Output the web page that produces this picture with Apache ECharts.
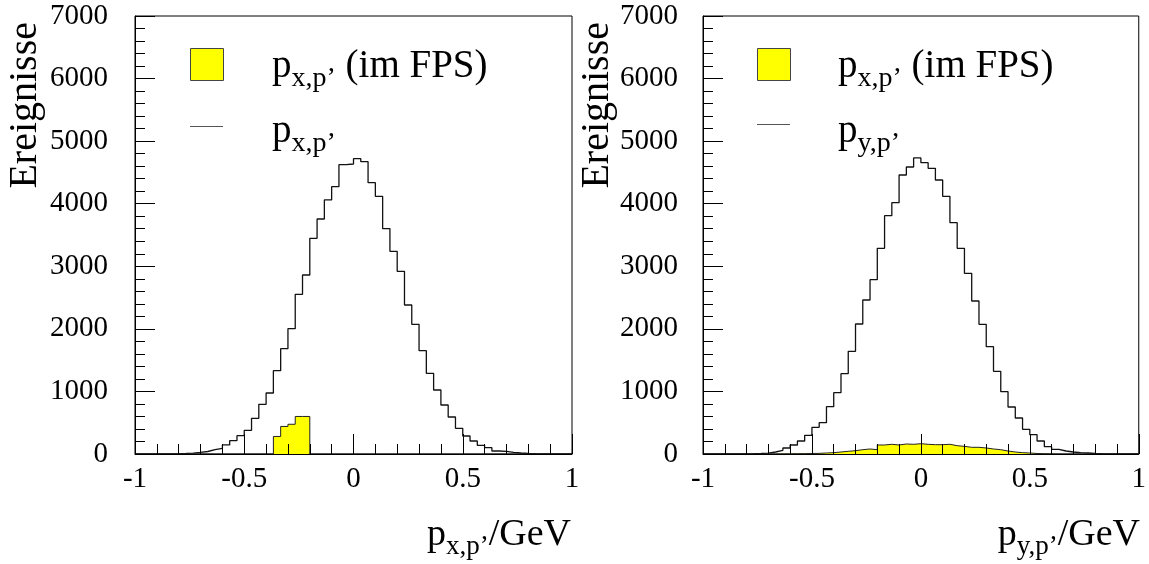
<!DOCTYPE html>
<html>
<head>
<meta charset="utf-8">
<script src="https://cdn.jsdelivr.net/npm/echarts@6/dist/echarts.min.js"></script>
<style>
html,body{margin:0;padding:0;background:#fff;}
#chart{width:1149px;height:564px;}
</style>
</head>
<body>
<div id="chart"></div>
<script>
// ---- data ----
const binMin = -1;
const binMax = 1;
const binCount = 60;
// left panel: p_x,p' (all) and p_x,p' (in FPS)
const pxAll = [0,0,1,2,3,5,8,15,25,40,70,90,145,213,293,378,570,794,975,1332,1684,2003,2552,2861,3447,3756,4060,4273,4624,4635,4720,4672,4337,4118,3602,3239,2920,2381,2072,1652,1289,1023,783,591,410,288,208,139,101,48,43,27,16,8,5,3,2,1,0,0];
const pxFPS = [0,0,0,0,0,0,0,0,0,0,0,0,0,0,0,0,0,0,0,280,440,475,600,600,0,0,0,0,0,0,0,0,0,0,0,0,0,0,0,0,0,0,0,0,0,0,0,0,0,0,0,0,0,0,0,0,0,0,0,0];
// right panel: p_y,p' (all) and p_x,p' (in FPS)
const pyAll = [0,0,1,1,2,3,5,8,15,32,59,96,144,208,298,426,501,757,980,1284,1641,2078,2461,2786,3287,3809,4017,4459,4587,4731,4656,4566,4379,4118,3697,3287,2888,2445,2072,1716,1321,996,751,575,394,309,208,117,75,48,32,21,16,8,5,3,2,1,0,0];
const pyFPS = [0,0,0,0,0,0,0,0,0,0,2,3,5,6,8,10,16,21,32,43,53,69,80,69,144,155,144,160,155,165,155,149,149,155,133,122,107,107,96,80,69,48,32,21,16,8,5,3,0,0,0,0,0,0,0,0,0,0,0,0];
const xTickValues = [-1,-0.5,0,0.5,1];
const xTickLabels = ['-1','-0.5','0','0.5','1'];
const yTickLabels = ['0','1000','2000','3000','4000','5000','6000','7000'];
const yTitle = 'Ereignisse';

// ---- helpers ----
const binWidth = (binMax - binMin) / binCount;
function stepData(vals){
  const d = vals.map((v,i)=>[binMin + i*binWidth, v]);
  d.push([binMax, vals[vals.length-1]]);
  return d;
}
const FONT = '"Liberation Serif", "Times New Roman", serif';
const rich = {
  m:{fontFamily:FONT,fontSize:38,color:'#000'},
  s:{fontFamily:FONT,fontSize:27,color:'#000',padding:[24,0,0,0]}
};
const legRich = {
  m:{fontFamily:FONT,fontSize:39,color:'#000'},
  s:{fontFamily:FONT,fontSize:28,color:'#000',padding:[24,0,0,0]}
};

function xAxisCfg(idx){
  return {
    gridIndex: idx, type:'value', min:-1, max:1, interval:0.5, z:5,
    axisLine:{show:true,onZero:false,lineStyle:{color:'#000',width:1}},
    axisTick:{show:true,inside:true,length:20,lineStyle:{color:'#000',width:1}},
    minorTick:{show:true,splitNumber:5,length:10,lineStyle:{color:'#000',width:1}},
    splitLine:{show:false}, minorSplitLine:{show:false},
    axisLabel:{show:true,margin:11,color:'#000',fontFamily:FONT,fontSize:29,
      showMinLabel:true,showMaxLabel:true,
      formatter:function(v){const i=xTickValues.findIndex(t=>Math.abs(t-v)<1e-6);return i>=0?xTickLabels[i]:'';}}
  };
}
function yAxisCfg(idx, margin){
  return {
    gridIndex: idx, type:'value', min:0, max:7000, interval:1000, z:5,
    axisLine:{show:true,onZero:false,lineStyle:{color:'#000',width:1}},
    axisTick:{show:true,inside:true,length:20,lineStyle:{color:'#000',width:1}},
    minorTick:{show:true,splitNumber:5,length:10,lineStyle:{color:'#000',width:1}},
    splitLine:{show:false}, minorSplitLine:{show:false},
    axisLabel:{show:true,margin:margin,color:'#000',fontFamily:FONT,fontSize:29,
      formatter:function(v){return yTickLabels[Math.round(v/1000)];}}
  };
}
function histSeries(idx, vals, filled){
  return {
    type:'line', xAxisIndex:idx, yAxisIndex:idx, step:'end', symbol:'none',
    data: stepData(vals), animation:false, silent:true,
    lineStyle:{color: filled ? '#222' : '#111', width: filled ? 1 : 1.3},
    areaStyle: filled ? {color:'#ffff00', opacity:1} : undefined,
    z: filled ? 3 : 2
  };
}

const chart = echarts.init(document.getElementById('chart'), null, {renderer:'canvas'});
chart.setOption({
  animation:false,
  backgroundColor:'#fff',
  grid:[
    {left:135, top:16, width:437, height:438, show:true, borderColor:'#000', borderWidth:1, backgroundColor:'transparent'},
    {left:703, top:16, width:437, height:438, show:true, borderColor:'#000', borderWidth:1, backgroundColor:'transparent'}
  ],
  xAxis:[xAxisCfg(0), xAxisCfg(1)],
  yAxis:[yAxisCfg(0,27), yAxisCfg(1,25)],
  series:[
    histSeries(0, pxAll, false),
    histSeries(0, pxFPS, true),
    histSeries(1, pyAll, false),
    histSeries(1, pyFPS, true)
  ],
  graphic:[
    // y titles
    {type:'text', x:25, y:22, rotation:Math.PI/2, style:{text:yTitle, fontFamily:FONT, fontSize:40, fill:'#000', align:'right', verticalAlign:'middle'}},
    {type:'text', x:597, y:22, rotation:Math.PI/2, style:{text:yTitle, fontFamily:FONT, fontSize:40, fill:'#000', align:'right', verticalAlign:'middle'}},
    // x titles
    {type:'text', x:571, y:535, style:{text:'{m|p}{s|x,p’}{m|/GeV}', rich:rich, align:'right', verticalAlign:'middle'}},
    {type:'text', x:1140, y:535, style:{text:'{m|p}{s|y,p’}{m|/GeV}', rich:rich, align:'right', verticalAlign:'middle'}},
    // legends left
    {type:'rect', shape:{x:190.5, y:48.5, width:33, height:32}, style:{fill:'#ffff00', stroke:'#444', lineWidth:1}},
    {type:'text', x:272, y:67, style:{text:'{m|p}{s|x,p’}{m| (im FPS)}', rich:legRich, align:'left', verticalAlign:'middle'}},
    {type:'line', shape:{x1:190, y1:126.5, x2:223, y2:126.5}, style:{stroke:'#555', lineWidth:1}},
    {type:'text', x:272, y:132, style:{text:'{m|p}{s|x,p’}', rich:legRich, align:'left', verticalAlign:'middle'}},
    // legends right
    {type:'rect', shape:{x:757.5, y:48.5, width:33, height:32}, style:{fill:'#ffff00', stroke:'#444', lineWidth:1}},
    {type:'text', x:838, y:67, style:{text:'{m|p}{s|x,p’}{m| (im FPS)}', rich:legRich, align:'left', verticalAlign:'middle'}},
    {type:'line', shape:{x1:757, y1:124.5, x2:790, y2:124.5}, style:{stroke:'#555', lineWidth:1}},
    {type:'text', x:838, y:132, style:{text:'{m|p}{s|y,p’}', rich:legRich, align:'left', verticalAlign:'middle'}}
  ]
});
</script>
</body>
</html>
